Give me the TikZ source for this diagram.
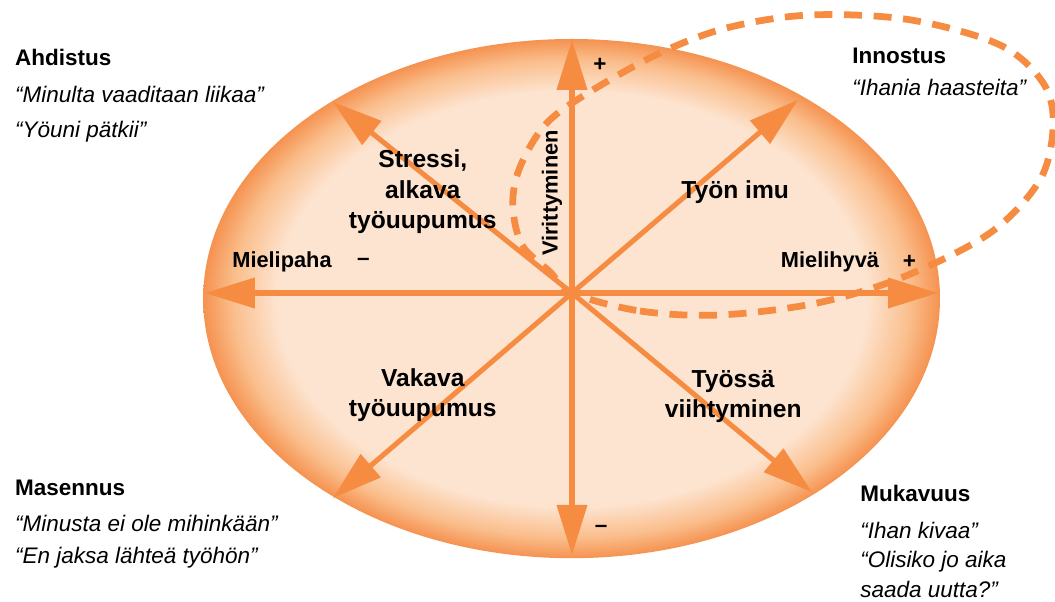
\documentclass[tikz,border=0pt]{standalone}
\usepackage{fontspec}
\setmainfont{Liberation Sans}
\usepackage{xcolor}
\usepackage{tikz}
\usetikzlibrary{arrows.meta, positioning}

\definecolor{ovalin}{RGB}{253,228,208}
\definecolor{ovalmid}{RGB}{250,190,140}
\definecolor{ovalout}{RGB}{245,146,80}
\definecolor{axisorange}{RGB}{246,140,66}
\pgfdeclareradialshading{ovalshade}{\pgfpoint{0bp}{0bp}}{color(0bp)=(ovalin); color(20bp)=(ovalin); color(23bp)=(ovalmid); color(25bp)=(ovalout); color(50bp)=(ovalout)}

\begin{document}
\begin{tikzpicture}[
    axis/.style={axisorange, line width=3.6pt, -{Triangle[length=1.25cm, width=0.74cm]}},
    loopline/.style={axisorange, line width=4.8pt, dash pattern=on 0.45cm off 0.29cm},
    mood/.style={anchor=north west, inner sep=0pt, align=left, font=\fontsize{16}{21}\selectfont},
    field/.style={align=center, inner sep=0pt, font=\bfseries\fontsize{17.5}{21.5}\selectfont},
    pole/.style={inner sep=0pt, font=\bfseries\fontsize{15.5}{18}\selectfont},
    sign/.style={inner sep=0pt, font=\bfseries\fontsize{16}{18}\selectfont}]
  \useasboundingbox (-14.3,-7.725) rectangle (12.075,7.325);
  \shade[shading=ovalshade] (-0.01,-0.14) ellipse [x radius=9.21, y radius=6.49];

  % axis tips on the rim
  \coordinate (o) at (0,0);
  \coordinate (up) at (0,6.33);
  \coordinate (down) at (0,-6.55);
  \coordinate (left) at (-9.18,0);
  \coordinate (right) at (9.15,0);
  \coordinate (ul) at (-5.98,4.78);
  \coordinate (ur) at (5.65,4.83);
  \coordinate (ll) at (-5.98,-5.13);
  \coordinate (lr) at (6.0,-4.98);
  \foreach \t in {up, down, left, right, ul, ur, ll, lr}
    \draw[axis] (o) -- (\t);

  % the loop through Innostus
  \draw[loopline] plot[smooth cycle, tension=0.55] coordinates {(o) (1.7,-0.45) (3.7,-0.55)
    (6.13,-0.25) (8.28,0.4) (10.45,1.5) (11.7,2.83) (12.03,4.2) (11.78,5.25) (10.7,6.2)
    (8.45,6.83) (5.95,6.95) (3.88,6.63) (2.2,6.0) (0.53,5.08) (-0.63,4.25) (-1.3,3.15)
    (-1.48,2.2) (-1.25,1.2) (-0.55,0.53)};

  \node[field] (stressi) at (-3.73,2.53) {Stressi,\\alkava\\työuupumus};
  \node[field] (imu) at (4.08,2.53) {Työn imu};
  \node[field] (vakava) at (-3.73,-2.55) {Vakava\\työuupumus};
  \node[field] (viihtyminen) at (4.03,-2.58) {Työssä\\viihtyminen};

  \node[pole] (mielipaha) at (-7.25,0.78) {Mielipaha};
  \node[pole] (mielihyva) at (6.45,0.78) {Mielihyvä};
  \node[pole, rotate=90] (virittyminen) at (-0.5,2.5) {Virittyminen};
  \node[sign, right=0.62cm of mielipaha] (miinus) {--};
  \node[sign, right=0.58cm of mielihyva] (plus) {+};
  \node[sign] (plusylos) at (0.7,5.7) {+};
  \node[sign] (miinusalas) at (0.73,-5.9) {--};

  \node[mood] (ahdistus) at (-13.93,6.1) {\textbf{Ahdistus}\\[5pt]
    \textit{“Minulta vaaditaan liikaa”}\\[4pt]\textit{“Yöuni pätkii”}};
  \node[mood] (innostus) at (7.0,6.13) {\textbf{Innostus}\\[2pt]\textit{“Ihania haasteita”}};
  \node[mood] (masennus) at (-13.93,-4.68) {\textbf{Masennus}\\[4pt]
    \textit{“Minusta ei ole mihinkään”}\\[2pt]\textit{“En jaksa lähteä työhön”}};
  \node[mood] (mukavuus) at (7.2,-4.8) {\textbf{Mukavuus}\\[5pt]\textit{“Ihan kivaa”}\\
    \textit{“Olisiko jo aika}\\\textit{saada uutta?”}};
\end{tikzpicture}
\end{document}
